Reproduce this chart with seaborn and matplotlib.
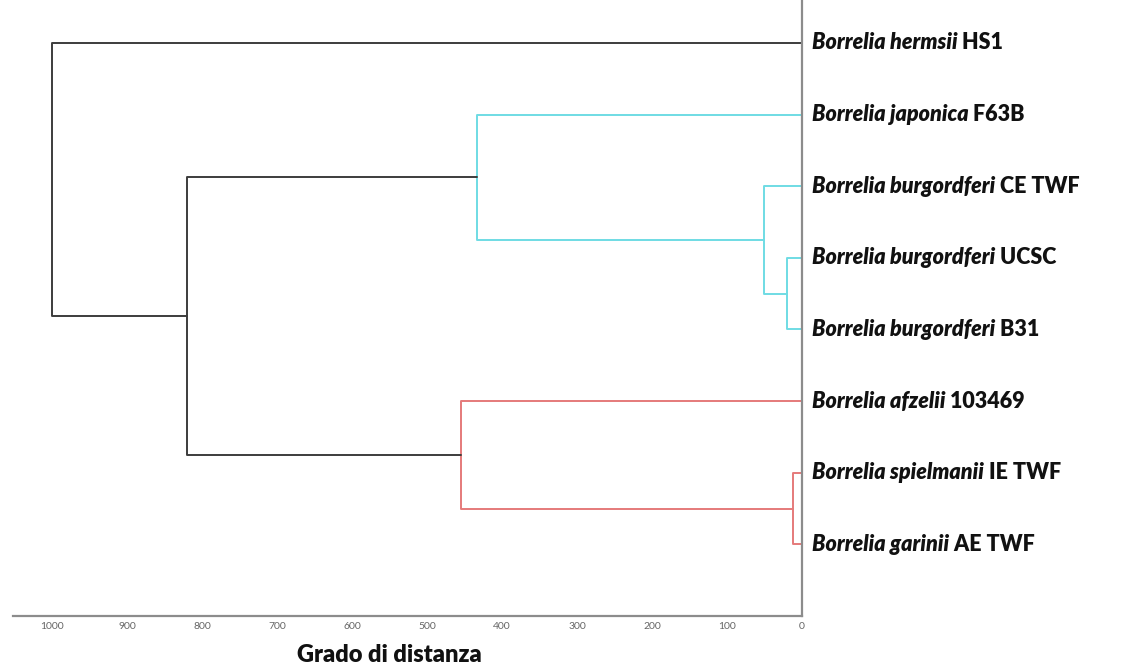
import matplotlib
matplotlib.use("Agg")
import matplotlib.pyplot as plt
import seaborn as sns
import pandas as pd

# leaves, top to bottom
species = ["Borrelia hermsii", "Borrelia japonica", "Borrelia burgordferi",
           "Borrelia burgordferi", "Borrelia burgordferi", "Borrelia afzelii",
           "Borrelia spielmanii", "Borrelia garinii"]
strains = ["HS1", "F63B", "CE TWF", "UCSC", "B31", "103469", "IE TWF", "AE TWF"]

# merges: children (leaf index or 8+ for earlier merges), height, cluster
merge_left = [3, 6, 2, 1, 5, 11, 0]
merge_right = [4, 7, 8, 10, 9, 12, 13]
merge_height = [20, 12, 51, 433, 455, 820, 1000]
merge_group = ["cyan", "red", "cyan", "cyan", "red", "root", "root"]

ticks = [1000, 900, 800, 700, 600, 500, 400, 300, 200, 100, 0]

palette = {"root": "#3c3c3c", "cyan": "#6fdce4", "red": "#e57a7a"}


def build_links():
    n = len(strains)
    pos = {i: float(i) for i in range(n)}
    height = {i: 0.0 for i in range(n)}
    rows = []
    for k, (a, b, h, g) in enumerate(zip(merge_left, merge_right, merge_height, merge_group)):
        node = n + k
        pts = [(height[a], pos[a]), (h, pos[a]), (h, pos[b]), (height[b], pos[b])]
        for order, (x, y) in enumerate(pts):
            rows.append({"link": k, "order": order, "x": x, "y": y, "group": g})
        pos[node] = (pos[a] + pos[b]) / 2
        height[node] = h
    return pd.DataFrame(rows)


sns.set_style("white")
plt.rcParams["font.family"] = ["Lato", "DejaVu Sans"]

fig = plt.figure(figsize=(11.46, 6.7), dpi=100)
ax = fig.add_axes([0.0113, 0.0806, 0.6885, 0.9194])

links = build_links()
sns.lineplot(data=links, x="x", y="y", units="link", estimator=None, sort=False,
             hue="group", palette=palette, legend=False, linewidth=1.4, ax=ax)

ax.set_xlim(1052, 0)
ax.set_ylim(8.0, -0.6)
ax.set_xticks(ticks)
ax.set_xticklabels([str(t) for t in ticks], fontsize=7.5, color="#666666")
ax.set_yticks([])
ax.set_ylabel("")
ax.tick_params(axis="x", direction="in", length=6, width=1, color="#777777", pad=4)

for s in ["left", "top"]:
    ax.spines[s].set_visible(False)
for s in ["right", "bottom"]:
    ax.spines[s].set_color("#8c8c8c")
    ax.spines[s].set_linewidth(1.6)

ax.set_xlabel("Grado di distanza", fontsize=17, fontweight="heavy", color="#111111")
ax.xaxis.set_label_coords(0.477, -0.045)

for i, (sp, st) in enumerate(zip(species, strains)):
    t = ax.annotate(sp, xy=(1.0, i), xycoords=("axes fraction", "data"),
                    xytext=(7, 0), textcoords="offset points",
                    ha="left", va="center", fontsize=15.5, fontweight="heavy",
                    fontstyle="italic", color="#111111")
    ax.annotate(" " + st, xy=(1, 0), xycoords=t, ha="left", va="bottom",
                fontsize=15.5, fontweight="heavy", color="#111111")

fig.savefig("out.png", dpi=100)
